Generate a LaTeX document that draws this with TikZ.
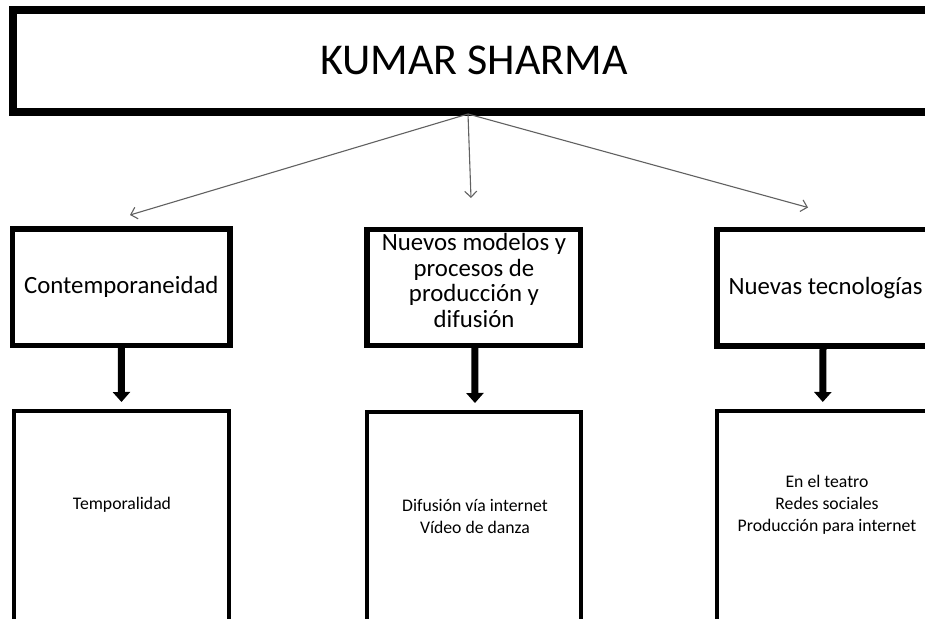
\documentclass[tikz,border=0pt]{standalone}
\usepackage{fontspec}
\setmainfont{Carlito}
\usetikzlibrary{arrows.meta}
\begin{document}
\begin{tikzpicture}[x=1pt,y=-1pt,
  frame/.style={draw=black, fill=white, inner sep=0pt, outer sep=0pt},
  titlebox/.style={frame, line width=8pt, minimum width=922pt, minimum height=101.5pt,
    font=\fontsize{44}{50}\selectfont},
  topic/.style={frame, line width=5.5pt, minimum height=116.5pt,
    font=\fontsize{24.8}{26}\selectfont, align=center},
  detail/.style={frame, line width=4pt, minimum height=229pt},
  topictext/.style={inner sep=0pt, align=center, font=\fontsize{24.8}{25.5}\selectfont},
  note/.style={inner sep=0pt, align=center, font=\fontsize{17.7}{22}\selectfont},
  branch/.style={draw=black!62, line width=1.1pt, -{Straight Barb[length=6pt,width=12pt]}},
  down/.style={draw=black, line width=7pt, -{Triangle[length=10pt,width=17pt]}, shorten >=9pt}
]
\useasboundingbox (0,0) rectangle (925,618);
\fill[white] (0,0) rectangle (925,618);
\clip (0,0) rectangle (925,618);

% heading
\node[titlebox] (top) at (474,60.75) {KUMAR SHARMA};

% topics
\node[topic, minimum width=217.5pt] (b1) at (121.25,287.25) {Contemporaneidad};
\node[topic, minimum width=213.5pt, minimum height=116pt] (b2) at (473.75,287.5) {};
\node[topictext] (b2t) at (474,280.5) {Nuevos modelos y\\procesos de\\producción y\\difusión};
\node[topic, minimum width=217pt] (b3) at (825.5,287.75) {Nuevas tecnologías};

% details
\node[detail, minimum width=215pt] (d1) at (121.5,525.5) {};
\node[detail, minimum width=214pt] (d2) at (474,526.5) {};
\node[detail, minimum width=217.5pt] (d3) at (825.25,525.5) {};
\node[note] (n1) at (122,505) {Temporalidad};
\node[note] (n2) at (475,516) {Difusión vía internet\\Vídeo de danza};
\node[note] (n3) at (827,505) {En el teatro\\Redes sociales\\Producción para internet};

% thin branches from the heading
\coordinate (hub) at (468,114);
\coordinate (t1) at (130,215);
\coordinate (t2) at (471,198);
\coordinate (t3) at (808,207.5);
\draw[branch] (hub) -- (t1);
\draw[branch] (hub) -- (t2);
\draw[branch] (hub) -- (t3);

% thick arrows from topics to details
\draw[down] (b1.south) -- (d1.north);
\draw[down] ([xshift=1pt]b2.south) -- ([xshift=1pt]d2.north);
\draw[down] ([xshift=-2.5pt]b3.south) -- ([xshift=-2.5pt]d3.north);
\end{tikzpicture}
\end{document}
